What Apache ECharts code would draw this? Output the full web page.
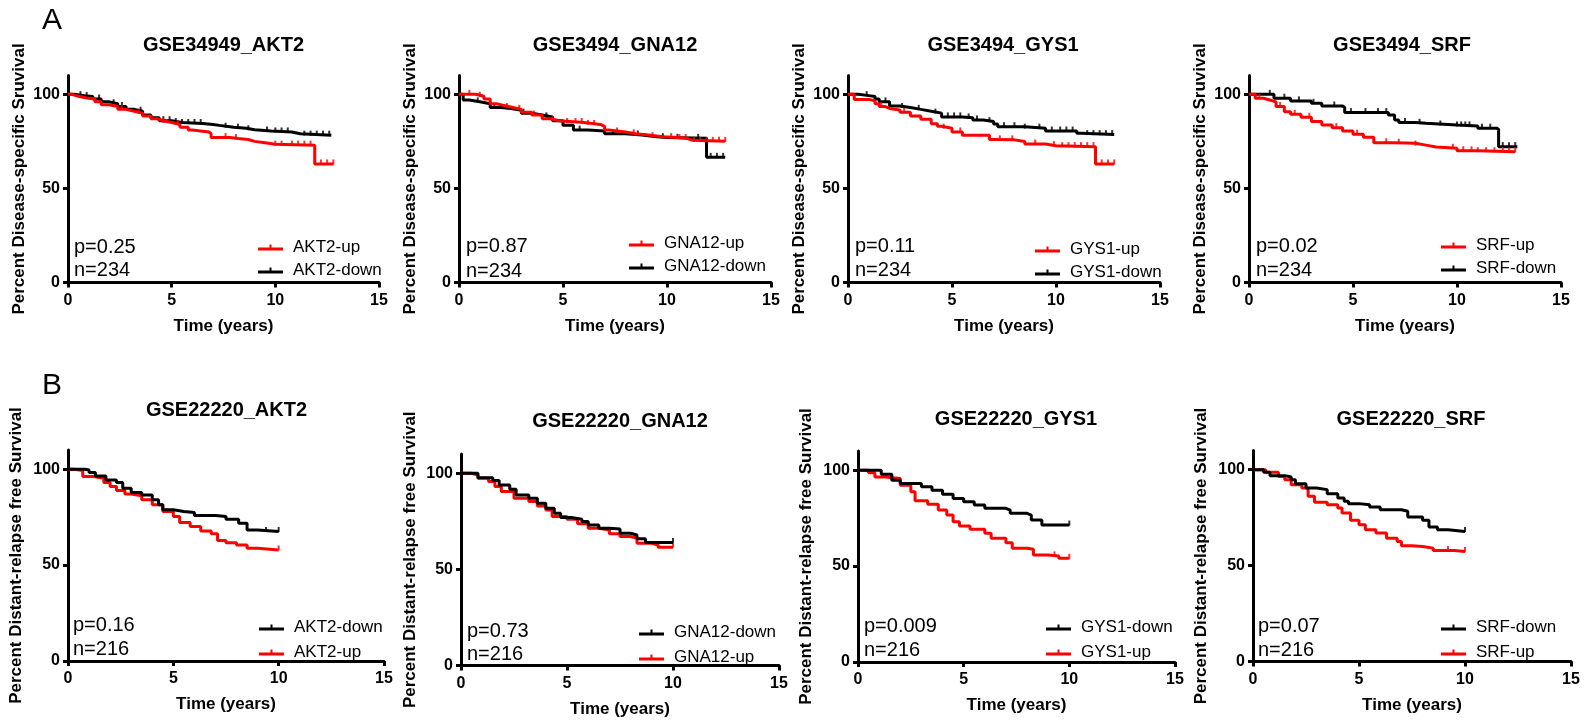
<!DOCTYPE html>
<html>
<head>
<meta charset="utf-8">
<script src="https://cdn.jsdelivr.net/npm/echarts@6/dist/echarts.min.js"></script>
<style>
  html, body { margin: 0; padding: 0; background: #fff; }
  #chart { width: 1584px; height: 722px; }
</style>
</head>
<body>
<div id="chart"></div>
<script>
// ---- data ----
const panelTitles = ['GSE34949_AKT2', 'GSE3494_GNA12', 'GSE3494_GYS1', 'GSE3494_SRF',
  'GSE22220_AKT2', 'GSE22220_GNA12', 'GSE22220_GYS1', 'GSE22220_SRF'];
const genes = ['AKT2', 'GNA12', 'GYS1', 'SRF', 'AKT2', 'GNA12', 'GYS1', 'SRF'];
const pTexts = ['p=0.25', 'p=0.87', 'p=0.11', 'p=0.02', 'p=0.16', 'p=0.73', 'p=0.009', 'p=0.07'];
const nTexts = ['n=234', 'n=234', 'n=234', 'n=234', 'n=216', 'n=216', 'n=216', 'n=216'];
const yNames = ['Percent Disease-specific Sruvival', 'Percent Distant-relapse free Survival'];
const xName = 'Time (years)';
const xTicks = [0, 5, 10, 15];
const yTicks = [0, 50, 100];

// KM curves: [time, percent surviving]
const a1Up = [[0,100],[0.2,99],[0.5,98],[0.9,97.5],[1.3,96],[1.6,94.5],[2,93.5],[2.4,92],[2.8,91],[3.2,90],[3.6,88.5],[4,87],[4.3,86],[4.6,85],[5,84],[5.4,82.5],[5.8,81],[6,80],[6.8,79],[6.9,77],[7.8,76.5],[8.2,76],[8.7,75],[9,74.3],[9.5,73.5],[10,73],[11.9,63],[12.8,63]];
const a1Down = [[0,100],[0.3,99.3],[0.8,98.8],[1.2,97.5],[1.6,96],[2,95],[2.4,93.5],[2.8,92],[3.2,91],[3.6,89],[4,87.5],[4.4,86],[5,85],[5.5,84.5],[6.5,84],[7,83.5],[7.3,82.5],[8,82],[8.6,81.2],[9,80.5],[9.8,80],[10.8,79],[11.2,78.3],[12.7,78.3]];
const a2Up = [[0,100],[0.8,99],[1.2,97.5],[1.5,95],[1.8,94],[2.2,93],[2.6,92],[3,90.5],[3.5,89],[4,87],[4.4,86],[4.8,85],[6,84],[6.8,83],[7,81],[7.2,80],[8,79],[8.5,78.5],[9,77.5],[9.8,77],[10.5,76.5],[11,75.6],[11.2,75],[12.8,75]];
const a2Down = [[0,100],[0.2,97],[0.5,96],[1,95],[1.5,93],[2,92.5],[2.5,91.5],[3,90],[3.5,89],[4,88],[4.5,86],[5,83.5],[5.5,81],[6.2,80.5],[7,79],[8,78.4],[8.8,77.5],[9.5,77],[10,76.6],[11.9,66.5],[12.8,66.5]];
const a3Up = [[0,100],[0.3,97.3],[1,96.6],[1.3,95],[1.5,93.5],[1.8,92.5],[2,91.7],[2.5,90.5],[3,88.5],[3.5,86.7],[4,84.3],[4.3,83],[4.5,82],[5,80],[5.5,78.3],[6.8,76],[7,75.8],[8,74.9],[8.5,73.6],[9.5,72.7],[10,72.2],[11.9,63],[12.8,63]];
const a3Down = [[0,100],[0.5,99.3],[1,98.8],[1.3,97.5],[1.5,96],[2,93.8],[2.5,93],[3,92],[3.5,91],[4,90],[4.5,88],[5.5,87.5],[6,86.4],[6.5,85.5],[7,84.2],[7.2,82.8],[8.5,82],[9.5,80.5],[11,79.3],[11.2,78.6],[12.8,78.6]];
const a4Up = [[0,100],[0.3,97.9],[0.7,97],[1,96],[1.3,93.5],[1.7,90.8],[2,89.4],[2.5,87.8],[3,85.5],[3.5,83.7],[4,82.3],[4.5,80.5],[5,78.8],[5.5,77.2],[6,74.3],[7,74],[8,73],[8.5,72],[9,71.3],[10,70],[11,69.5],[12.8,69.5]];
const a4Down = [[0,100],[1.2,97.9],[2,96.5],[3,95.2],[3.5,93.8],[4.5,93],[4.6,90.3],[6.7,89],[7,86.4],[7.2,85],[8,84.6],[8.5,83.7],[10,83.2],[11,82],[11.9,81.4],[12,72.2],[12.9,72.2]];
const b1Up = [[0,100],[0.3,99.3],[0.7,96.2],[1.2,95.3],[1.7,93],[2,91],[2.3,88.9],[2.7,87.1],[3,86.1],[3.5,84],[4,81.4],[4.5,77.9],[5,75.3],[5.3,72.2],[5.8,70.1],[6.3,67.8],[6.8,66.3],[7.1,62.8],[7.5,61.7],[8,60.5],[8.5,58.8],[9,57.9],[10,57.9]];
const b1Down = [[0,100],[0.8,99.6],[1,98.3],[1.3,96.5],[1.8,94.4],[2.3,93],[2.6,90],[3,87.8],[3.5,86.6],[4,84],[4.3,81.4],[4.5,78.8],[5,77.9],[5.5,77.4],[6,75.8],[7,75.3],[7.5,73.9],[8.1,71.8],[8.5,68.3],[9,67.5],[10,67.5]];
const b2Up = [[0,100],[0.5,99.1],[0.8,97.4],[1.3,95.7],[1.6,93.1],[1.9,90.5],[2.5,87],[3.2,85.3],[3.6,83],[4,80.9],[4.3,77.5],[5,76.1],[5.5,73.7],[6,71.4],[6.5,70.5],[7,68.5],[7.5,67.1],[8,66.2],[8.3,63.6],[9,62.7],[9.3,61.5],[10,61.5]];
const b2Down = [[0,100],[0.8,97.7],[1.5,96.2],[1.8,93.9],[2.3,91.7],[2.6,88.7],[3.2,87],[3.6,84.4],[4,81.8],[4.4,79.2],[4.7,77],[5.2,76.1],[5.7,74.9],[6,73.1],[6.5,71.4],[7,71],[7.5,68.8],[8,67.9],[8.3,65.9],[8.7,64],[10,64]];
const b3Up = [[0,100],[0.5,98.6],[0.8,96.5],[1.3,95.7],[2,92.2],[2.5,88.7],[2.7,84.1],[3.3,82.3],[3.8,79.2],[4.2,76.6],[4.5,73.1],[4.8,70.9],[5.3,69.2],[6,67.1],[6.3,64.5],[7,62.2],[7.3,59.3],[8,58.8],[8.3,55.8],[9,55.3],[9.5,54.1],[10,54.1]];
const b3Down = [[0,100],[1.1,97.9],[1.6,94.8],[2,93.1],[3,91.3],[3.5,89.6],[4,87.5],[4.5,85.3],[5,83.5],[5.5,81.8],[6,80.1],[7,79.2],[7.2,77.5],[8,76.6],[8.2,74],[8.7,71.4],[10,71.4]];
const b4Up = [[0,100],[0.6,98.6],[1.2,96.5],[1.5,94.8],[1.8,92.2],[2.3,90.4],[2.6,86.1],[2.9,83],[3.5,81.7],[4,80],[4.2,77.4],[4.6,73.6],[5,71.3],[5.3,68.7],[5.8,67],[6.3,64.3],[6.8,62.6],[7,60.3],[7.5,60],[8,59.1],[8.5,57.9],[9.5,57.4],[10,57.4]];
const b4Down = [[0,100],[0.5,98.6],[0.8,96.9],[1.5,96.2],[1.8,94.8],[2,92.7],[2.5,90.4],[3,89.6],[3.5,87.5],[4,85.2],[4.3,83.5],[4.5,82.3],[5,81.7],[5.5,80.5],[6,79.1],[7,78.3],[7.3,75.3],[8,73.6],[8.3,70.1],[8.7,68.7],[9.2,67.8],[10,67.8]];

// censored times (tick marks)
const a1UpCensor = [1.3,2.6,3.4,4.6,5.3,7.6,8.1,10.0,10.3,10.8,11.1,11.4,11.7,12.2,12.5,12.8];
const a1DownCensor = [0.6,0.9,1.5,2.2,2.6,3.5,4.6,4.9,5.2,5.5,5.8,6.1,6.4,7.6,8.2,8.7,9.6,10.0,10.3,10.6,11.4,11.7,12.0,12.3,12.6];
const a2UpCensor = [0.5,1.0,2.3,2.9,3.6,4.5,5.2,5.6,5.9,6.2,6.5,7.6,8.4,9.3,10.2,10.6,10.9,11.3,11.6,11.9,12.2,12.5,12.8];
const a2DownCensor = [0.9,1.7,3.1,4.2,5.8,7.4,8.6,9.8,10.5,11.5,12.1,12.4,12.7];
const a3UpCensor = [1.6,2.7,4.6,5.4,7.3,7.9,9.0,9.9,10.3,10.6,10.9,11.2,11.5,11.8,12.2,12.5,12.8];
const a3DownCensor = [0.9,1.8,2.6,3.4,4.2,4.8,5.1,5.4,5.8,6.2,6.8,7.5,8.0,8.5,9.2,9.8,10.2,10.5,10.8,11.5,11.8,12.1,12.4,12.7];
const a4UpCensor = [0.5,1.5,2.2,2.9,4.2,5.2,6.6,7.2,8.0,9.8,10.3,10.7,11.0,11.4,11.8,12.2,12.5,12.8];
const a4DownCensor = [1.0,1.7,2.4,3.1,4.1,4.9,5.6,6.2,6.6,7.5,8.2,9.2,10.0,10.2,10.4,10.6,11.2,11.6,12.2,12.5,12.8];
const b1UpCensor = [10];
const b1DownCensor = [9.4, 10];
const b2UpCensor = [10];
const b2DownCensor = [10];
const b3UpCensor = [9.3, 10];
const b3DownCensor = [10];
const b4UpCensor = [9.2, 10];
const b4DownCensor = [10];

const upCurves = [a1Up, a2Up, a3Up, a4Up, b1Up, b2Up, b3Up, b4Up];
const downCurves = [a1Down, a2Down, a3Down, a4Down, b1Down, b2Down, b3Down, b4Down];
const upCensors = [a1UpCensor, a2UpCensor, a3UpCensor, a4UpCensor, b1UpCensor, b2UpCensor, b3UpCensor, b4UpCensor];
const downCensors = [a1DownCensor, a2DownCensor, a3DownCensor, a4DownCensor, b1DownCensor, b2DownCensor, b3DownCensor, b4DownCensor];

// ---- layout (pixels) ----
// l,t,w,h = plot box; tx,ty = title centre; gap = y-name gap; lg = legend left/top; px,py,ny = p/n text
const layout = [
  {l: 68,   t: 75.5, w: 311, h: 207, tx: 223.5, ty: 45,    gap: 40, lgx: 258,  lgy: 239, px: 74,  py: 247,   ny: 270},
  {l: 459,  t: 75.5, w: 312, h: 207, tx: 615,   ty: 45,    gap: 40, lgx: 629,  lgy: 235, px: 466, py: 246.7, ny: 271.5},
  {l: 848,  t: 75.5, w: 312, h: 207, tx: 1003,  ty: 45,    gap: 40, lgx: 1035, lgy: 241, px: 855, py: 246.7, ny: 270},
  {l: 1249, t: 75.5, w: 312, h: 207, tx: 1402,  ty: 45,    gap: 40, lgx: 1441, lgy: 237, px: 1256, py: 246.7, ny: 270.5},
  {l: 68,   t: 450,  w: 316, h: 211, tx: 226.5, ty: 410,   gap: 43, lgx: 259,  lgy: 619, px: 73,  py: 625,   ny: 649},
  {l: 461,  t: 454,  w: 318, h: 211.5, tx: 620, ty: 421.7, gap: 42, lgx: 639,  lgy: 624, px: 467, py: 631,   ny: 654},
  {l: 858,  t: 451,  w: 317, h: 211, tx: 1016,  ty: 419.3, gap: 43, lgx: 1046, lgy: 619, px: 864, py: 626,   ny: 650},
  {l: 1253, t: 450.5, w: 318, h: 211, tx: 1411, ty: 419.3, gap: 43, lgx: 1441, lgy: 619, px: 1258, py: 626,  ny: 650}
];

const FONT = "'Liberation Sans', Arial, sans-serif";
const RED = '#ff0000';
const BLACK = '#000000';
const legendIcon = 'path://M0,4H25V7H0Z M11.5,1H13.5V7H11.5Z';

// 在某个时间点读取阶梯曲线的值（用于删失标记）
function stepValueAt(curve, t) {
  let v = curve[0][1];
  for (const pt of curve) {
    if (pt[0] <= t) v = pt[1];
  }
  return v;
}

const grids = [], xAxes = [], yAxes = [], series = [], legends = [], graphics = [];

layout.forEach((L, i) => {
  const rowB = i >= 4;
  const upName = genes[i] + '-up';
  const downName = genes[i] + '-down';

  grids.push({left: L.l, top: L.t, width: L.w, height: L.h, containLabel: false});

  xAxes.push({
    gridIndex: i, type: 'value', min: 0, max: 15, interval: 5,
    name: xName, nameLocation: 'middle', nameGap: 35,
    nameTextStyle: {fontFamily: FONT, fontSize: 17, fontWeight: 'bold', color: '#000'},
    axisLine: {lineStyle: {color: '#000', width: 3}},
    axisTick: {show: true, length: 5, lineStyle: {color: '#000', width: 3}},
    axisLabel: {fontFamily: FONT, fontSize: 16, fontWeight: 'bold', color: '#000', margin: 10},
    splitLine: {show: false}
  });

  yAxes.push({
    gridIndex: i, type: 'value', min: 0, max: 110,
    name: rowB ? yNames[1] : yNames[0], nameLocation: 'middle', nameGap: L.gap, nameRotate: 90,
    nameTextStyle: {fontFamily: FONT, fontSize: 17, fontWeight: 'bold', color: '#000'},
    axisLine: {show: true, lineStyle: {color: '#000', width: 3}},
    axisTick: {show: true, length: 5, lineStyle: {color: '#000', width: 3}, customValues: yTicks},
    axisLabel: {fontFamily: FONT, fontSize: 16, fontWeight: 'bold', color: '#000', margin: 8, customValues: yTicks},
    splitLine: {show: false}
  });

  const upLine = {
    name: upName, type: 'line', step: 'end', xAxisIndex: i, yAxisIndex: i,
    data: upCurves[i], showSymbol: false, symbol: 'none',
    lineStyle: {color: RED, width: 3}, itemStyle: {color: RED}, z: rowB ? 2 : 3
  };
  const downLine = {
    name: downName, type: 'line', step: 'end', xAxisIndex: i, yAxisIndex: i,
    data: downCurves[i], showSymbol: false, symbol: 'none',
    lineStyle: {color: BLACK, width: 3}, itemStyle: {color: BLACK}, z: rowB ? 3 : 2
  };
  series.push(upLine, downLine);

  series.push({
    name: 'censor-up-' + i, type: 'scatter', xAxisIndex: i, yAxisIndex: i,
    data: upCensors[i].map(t => [t, stepValueAt(upCurves[i], t)]),
    symbol: 'rect', symbolSize: [2, 5], symbolOffset: [0, -2],
    itemStyle: {color: RED}, z: rowB ? 2 : 3
  });
  series.push({
    name: 'censor-down-' + i, type: 'scatter', xAxisIndex: i, yAxisIndex: i,
    data: downCensors[i].map(t => [t, stepValueAt(downCurves[i], t)]),
    symbol: 'rect', symbolSize: [2, 5], symbolOffset: [0, -2],
    itemStyle: {color: BLACK}, z: rowB ? 3 : 2
  });

  const order = rowB ? [downName, upName] : [upName, downName];
  legends.push({
    orient: 'vertical', left: L.lgx, top: L.lgy, padding: 0,
    itemWidth: 25, itemHeight: 7, itemGap: rowB ? 8 : 6,
    selectedMode: false,
    data: order.map(n => ({name: n, icon: legendIcon})),
    textStyle: {fontFamily: FONT, fontSize: 17, color: '#000', padding: [0, 0, 0, 5]}
  });

  graphics.push({
    type: 'text', x: L.tx, y: L.ty,
    style: {text: panelTitles[i], font: 'bold 20px ' + FONT, fill: '#000',
      textAlign: 'center', align: 'center', textVerticalAlign: 'middle', verticalAlign: 'middle'}
  });
  graphics.push({
    type: 'text', x: L.px, y: L.py,
    style: {text: pTexts[i], font: '20px ' + FONT, fill: '#000',
      textAlign: 'left', align: 'left', textVerticalAlign: 'middle', verticalAlign: 'middle'}
  });
  graphics.push({
    type: 'text', x: L.px, y: L.ny,
    style: {text: nTexts[i], font: '20px ' + FONT, fill: '#000',
      textAlign: 'left', align: 'left', textVerticalAlign: 'middle', verticalAlign: 'middle'}
  });
});

// panel letters
graphics.push({type: 'text', x: 42, y: 21,
  style: {text: 'A', font: '30px ' + FONT, fill: '#000', textVerticalAlign: 'middle', verticalAlign: 'middle'}});
graphics.push({type: 'text', x: 42, y: 386,
  style: {text: 'B', font: '30px ' + FONT, fill: '#000', textVerticalAlign: 'middle', verticalAlign: 'middle'}});

const chart = echarts.init(document.getElementById('chart'));
chart.setOption({
  animation: false,
  backgroundColor: '#fff',
  grid: grids,
  xAxis: xAxes,
  yAxis: yAxes,
  legend: legends,
  series: series,
  graphic: graphics
});
</script>
</body>
</html>
